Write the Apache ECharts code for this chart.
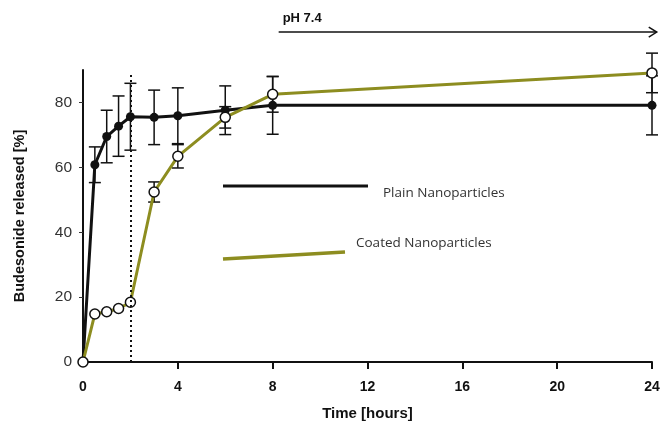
<!DOCTYPE html>
<html>
<head>
<meta charset="utf-8">
<script src="https://cdn.jsdelivr.net/npm/echarts@6/dist/echarts.min.js"></script>
<style>
  html, body { margin: 0; padding: 0; background: #fff; }
  #main { width: 660px; height: 425px; }
</style>
</head>
<body>
<div id="main"></div>
<script>
  // release data
  var hours = [0, 0.5, 1, 1.5, 2, 3, 4, 6, 8, 24];
  var plainMean = [0, 60.8, 69.5, 72.7, 75.6, 75.4, 75.9, 77.6, 79.1, 79.1];
  var plainErr = [0, 5.5, 8.1, 9.3, 10.3, 8.4, 8.6, 7.5, 8.9, 9.1];
  var coatedMean = [0, 14.8, 15.5, 16.5, 18.4, 52.4, 63.4, 75.4, 82.5, 89.1];
  var coatedErr = [0, 0, 0, 0, 0, 3.1, 3.6, 3.3, 5.5, 6.1];
  var xTicks = [0, 4, 8, 12, 16, 20, 24];
  var yTicks = [0, 20, 40, 60, 80];
  var phStart = 8, phEnd = 24.2, phLevel = 101.7;
  var switchHour = 2;

  var olive = '#8d8d20';
  var myChart = echarts.init(document.getElementById('main'));

  function pairs(xs, ys) {
    return xs.map(function(x, i) { return [x, ys[i]]; });
  }
  function errRows(xs, ys, es) {
    var out = [];
    xs.forEach(function(x, i) {
      if (es[i] > 0) out.push([x, ys[i] - es[i], ys[i] + es[i]]);
    });
    return out;
  }

  function errorBarItem(params, api) {
    var x = api.value(0);
    var lo = api.coord([x, api.value(1)]);
    var hi = api.coord([x, api.value(2)]);
    var half = 6;
    var style = { stroke: '#111', lineWidth: 1.5 };
    return {
      type: 'group',
      children: [
        { type: 'line', shape: { x1: lo[0], y1: lo[1], x2: hi[0], y2: hi[1] }, style: style },
        { type: 'line', shape: { x1: lo[0] - half, y1: lo[1], x2: lo[0] + half, y2: lo[1] }, style: style },
        { type: 'line', shape: { x1: hi[0] - half, y1: hi[1], x2: hi[0] + half, y2: hi[1] }, style: style }
      ]
    };
  }

  var option = {
    animation: false,
    backgroundColor: '#fff',
    grid: { left: 83, right: 8, top: 70, bottom: 63, outerBoundsMode: 'none', containLabel: false },
    xAxis: {
      type: 'value',
      min: 0, max: 24, interval: 4,
      name: 'Time [hours]',
      nameLocation: 'middle',
      nameGap: 44,
      nameTextStyle: { fontFamily: 'Liberation Sans', fontWeight: 'bold', fontSize: 15, color: '#111' },
      axisLine: { lineStyle: { color: '#111', width: 2 } },
      axisTick: { show: true, length: 7, lineStyle: { color: '#111', width: 2 }, customValues: xTicks.slice(1) },
      axisLabel: {
        margin: 18,
        fontFamily: 'Liberation Sans', fontWeight: 'bold', fontSize: 14, color: '#111',
        customValues: xTicks
      },
      splitLine: { show: false }
    },
    yAxis: {
      type: 'value',
      min: 0, max: 90, interval: 20,
      name: 'Budesonide released [%]',
      nameLocation: 'middle',
      nameGap: 56,
      nameTextStyle: { fontFamily: 'Liberation Sans', fontWeight: 'bold', fontSize: 14.5, color: '#111' },
      axisLine: { show: true, lineStyle: { color: '#111', width: 2 } },
      axisTick: { show: true, length: 4, lineStyle: { color: '#333', width: 1 }, customValues: yTicks },
      axisLabel: {
        margin: 11,
        fontFamily: 'Liberation Sans', fontSize: 15.5, color: '#333',
        customValues: yTicks
      },
      splitLine: { show: false }
    },
    series: [
      {
        name: 'plainErr',
        type: 'custom',
        renderItem: errorBarItem,
        data: errRows(hours, plainMean, plainErr),
        z: 1
      },
      {
        name: 'coatedErr',
        type: 'custom',
        renderItem: errorBarItem,
        data: errRows(hours, coatedMean, coatedErr),
        z: 1
      },
      {
        name: 'Plain Nanoparticles',
        type: 'line',
        data: pairs(hours, plainMean),
        symbol: 'circle',
        symbolSize: 9,
        itemStyle: { color: '#111' },
        lineStyle: { color: '#111', width: 3 },
        z: 3,
        markLine: {
          silent: true,
          symbol: ['none', 'none'],
          label: { show: false },
          lineStyle: { color: '#111', type: [2, 3], width: 2 },
          data: [[{ coord: [switchHour, 0] }, { coord: [switchHour, 89] }]]
        }
      },
      {
        name: 'Coated Nanoparticles',
        type: 'line',
        data: pairs(hours, coatedMean),
        symbol: 'circle',
        symbolSize: 10,
        itemStyle: { color: '#fff', borderColor: '#111', borderWidth: 1.5 },
        lineStyle: { color: olive, width: 3 },
        z: 4
      }
    ]
  };
  myChart.setOption(option);

  // pH arrow and hand-drawn legend
  var a = myChart.convertToPixel({ gridIndex: 0 }, [phStart, phLevel]);
  var b = myChart.convertToPixel({ gridIndex: 0 }, [phEnd, phLevel]);
  myChart.setOption({
    graphic: [
      { type: 'line', shape: { x1: a[0] + 6, y1: a[1], x2: b[0], y2: b[1] }, style: { stroke: '#111', lineWidth: 1.5 } },
      { type: 'polyline', shape: { points: [[b[0] - 8, b[1] - 5], [b[0], b[1]], [b[0] - 8, b[1] + 5]] }, style: { stroke: '#111', lineWidth: 1.5, fill: null } },
      { type: 'text', x: a[0] + 10, y: a[1] - 14, style: { text: 'pH 7.4', font: 'bold 13px "Liberation Sans"', fill: '#111', verticalAlign: 'middle' } },
      { type: 'line', shape: { x1: 223, y1: 186, x2: 368, y2: 186 }, style: { stroke: '#111', lineWidth: 3 } },
      { type: 'text', x: 383, y: 193, style: { text: 'Plain Nanoparticles', font: '13.5px "Open Sans"', fill: '#333', verticalAlign: 'middle' } },
      { type: 'line', shape: { x1: 223, y1: 259, x2: 345, y2: 252 }, style: { stroke: olive, lineWidth: 3.5 } },
      { type: 'text', x: 356, y: 243, style: { text: 'Coated Nanoparticles', font: '13.5px "Open Sans"', fill: '#333', verticalAlign: 'middle' } }
    ]
  });
</script>
</body>
</html>
